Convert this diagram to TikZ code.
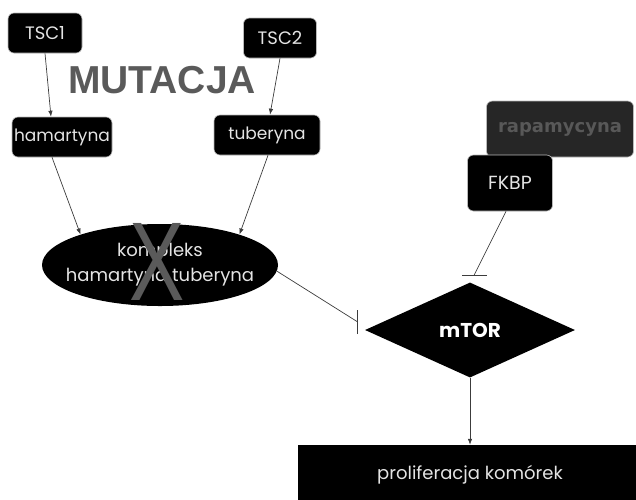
\documentclass[tikz,border=0pt]{standalone}
\usepackage{fontspec}
\setmainfont{Poppins}
\newfontfamily\headfont{Liberation Sans}
\newfontfamily\drugfont{DejaVu Sans}
\usetikzlibrary{arrows.meta,shapes.geometric}
\definecolor{lbltext}{HTML}{E4E4E4}
\definecolor{mutgrey}{HTML}{5A5A5A}
\definecolor{lineink}{HTML}{3C3C3C}
\definecolor{rapafill}{HTML}{262626}
\definecolor{rapatext}{HTML}{585858}

\begin{document}
\begin{tikzpicture}[
  x=1pt, y=-1pt,
  font=\fontsize{17}{20}\selectfont,
  box/.style={fill=black, draw=gray!55, line width=0.6pt, text=lbltext,
              rounded corners=6pt, inner sep=0pt, minimum height=40pt},
  arr/.style={-{Latex[length=6pt,width=4.5pt]}, lineink, line width=0.7pt},
  inh/.style={lineink, line width=0.7pt}
]
  \useasboundingbox (0,0) rectangle (636,499);

  \node[box, minimum width=74pt, font=\fontsize{18}{20}\selectfont] (tsc1) at (45,33) {TSC1};
  \node[box, minimum width=73pt, font=\fontsize{18}{20}\selectfont] (tsc2) at (280,38) {TSC2};
  \node[text=mutgrey, font=\headfont\bfseries\fontsize{39}{42}\selectfont]
    (mut) at (162,80) {MUTACJA};
  \node[box, minimum width=100pt] (ham) at (62,137) {hamartyna};
  \node[box, minimum width=106pt] (tub) at (267,135) {tuberyna};

  \node[ellipse, fill=black, text=lbltext, align=center,
        inner xsep=-14pt, inner ysep=0pt,
        minimum width=236pt, minimum height=82pt,
        font=\fontsize{18}{25}\selectfont] (kompl) at (160,265)
    {kompleks\\hamartyna tuberyna};
  \node[text=mutgrey, xscale=0.74, font=\headfont\fontsize{112}{112}\selectfont]
    (cross) at (157,262) {X};

  \node[box, fill=rapafill, text=rapatext, minimum width=147pt,
        minimum height=56pt, font=\drugfont\bfseries\fontsize{18}{20}\selectfont]
    (rapa) at (560,129) {rapamycyna};
  \node[box, minimum width=85pt, minimum height=56pt,
        font=\fontsize{19}{20}\selectfont] (fkbp) at (510,183) {FKBP};

  \node[diamond, fill=black, text=white, inner sep=0pt, aspect=2.2,
        minimum width=210pt, minimum height=95pt,
        font=\bfseries\fontsize{20}{22}\selectfont] (mtor) at (470,330) {mTOR};

  \node[fill=black, text=lbltext, minimum width=344pt, minimum height=60pt,
        inner sep=0pt, font=\fontsize{18}{20}\selectfont] (prol) at (470,475)
    {proliferacja komórek};

  \draw[arr] (tsc1.south) -- ([xshift=-11pt]ham.north);
  \draw[arr] (tsc2.south) -- ([xshift=3pt]tub.north);
  \draw[arr] ([xshift=-10pt]ham.south) -- (kompl.159);
  \draw[arr] ([xshift=1pt]tub.south) -- (kompl.21);

  \coordinate (stop1) at ([xshift=-7pt,yshift=8pt]mtor.west);
  \draw[inh] (kompl.-3) -- (stop1);
  \draw[inh] ([yshift=-12pt]stop1) -- ([yshift=12pt]stop1);

  \coordinate (stop2) at ([xshift=4pt,yshift=7pt]mtor.north);
  \draw[inh] ([xshift=-4pt]fkbp.south) -- (stop2);
  \draw[inh] ([xshift=-12pt]stop2) -- ([xshift=13pt]stop2);

  \draw[arr] (mtor.south) -- (prol.north);
\end{tikzpicture}
\end{document}
